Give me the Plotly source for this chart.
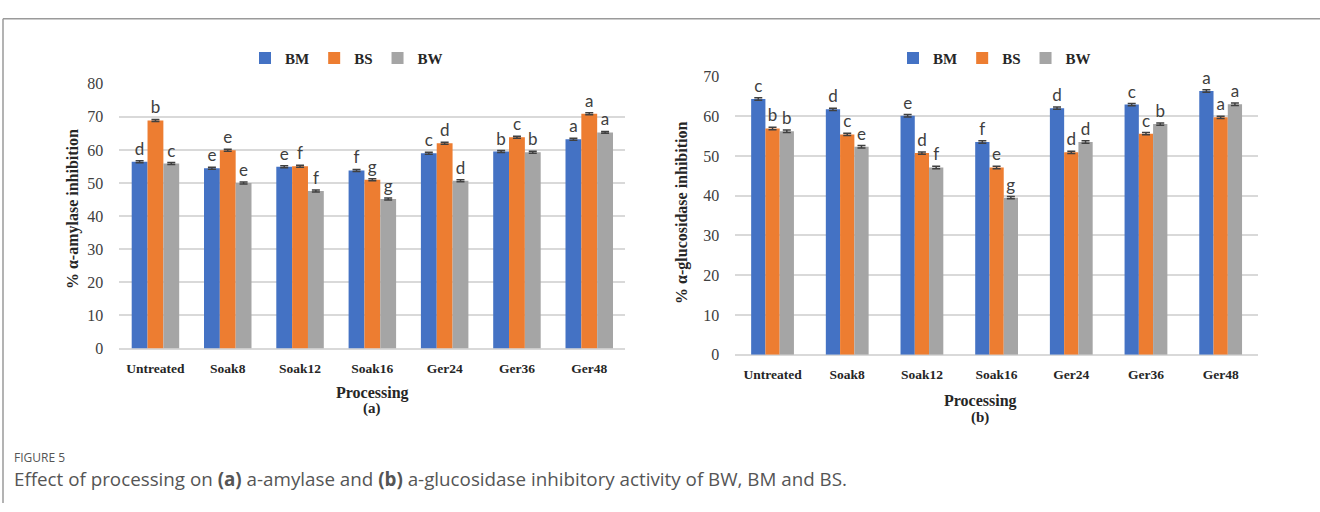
import plotly.graph_objects as go

categories = ["Untreated", "Soak8", "Soak12", "Soak16", "Ger24", "Ger36", "Ger48"]
series = ["BM", "BS", "BW"]

amylase_BM = [56.4, 54.5, 54.9, 53.8, 59.0, 59.5, 63.2]
amylase_BS = [68.9, 59.9, 55.1, 51.0, 62.0, 63.8, 70.9]
amylase_BW = [55.9, 50.0, 47.6, 45.2, 50.7, 59.3, 65.3]
amylase_err = [0.3] * 7
amylase_letters_BM = ["d", "e", "e", "f", "c", "b", "a"]
amylase_letters_BS = ["b", "e", "f", "g", "d", "c", "a"]
amylase_letters_BW = ["c", "e", "f", "g", "d", "b", "a"]

gluco_BM = [64.3, 61.7, 60.1, 53.5, 62.0, 62.9, 66.3]
gluco_BS = [56.9, 55.4, 50.7, 47.1, 50.9, 55.6, 59.7]
gluco_BW = [56.2, 52.3, 47.1, 39.5, 53.5, 58.0, 63.0]
gluco_err = [0.3] * 7
gluco_letters_BM = ["c", "d", "e", "f", "d", "c", "a"]
gluco_letters_BS = ["b", "c", "d", "e", "d", "c", "a"]
gluco_letters_BW = ["b", "e", "f", "g", "d", "b", "a"]

colors = {"BM": "#4472C4", "BS": "#ED7D31", "BW": "#A5A5A5"}

W, H = 1320, 512


def px(x):
    return x / W


def py(y):
    return 1 - y / H


fig = go.Figure()

left_vals = [amylase_BM, amylase_BS, amylase_BW]
left_letters = [amylase_letters_BM, amylase_letters_BS, amylase_letters_BW]
right_vals = [gluco_BM, gluco_BS, gluco_BW]
right_letters = [gluco_letters_BM, gluco_letters_BS, gluco_letters_BW]

lw = 0.219
rw = 0.191
letter_font = dict(family="Lato", size=17, color="#404040")

for i, s in enumerate(series):
    fig.add_trace(go.Bar(
        x=categories, y=left_vals[i], name=s, xaxis="x", yaxis="y",
        width=lw, offset=-1.5 * lw + i * lw,
        marker=dict(color=colors[s], line=dict(width=0)),
        error_y=dict(type="data", array=amylase_err, color="#404040", thickness=1.5, width=4),
        text=left_letters[i], textposition="outside", outsidetextfont=letter_font,
        constraintext="none", cliponaxis=False, legend="legend",
    ))
for i, s in enumerate(series):
    fig.add_trace(go.Bar(
        x=categories, y=right_vals[i], name=s, xaxis="x2", yaxis="y2",
        width=rw, offset=-1.5 * rw + i * rw,
        marker=dict(color=colors[s], line=dict(width=0)),
        error_y=dict(type="data", array=gluco_err, color="#404040", thickness=1.5, width=4),
        text=right_letters[i], textposition="outside", outsidetextfont=letter_font,
        constraintext="none", cliponaxis=False, legend="legend2",
    ))

serif = "Liberation Serif"
grid = "#d9d9d9"

xcommon = dict(type="category", categoryorder="array", categoryarray=categories,
               showgrid=False, showline=False, zeroline=False,
               ticks="", ticklabelstandoff=10,
               tickfont=dict(family=serif, size=13.5, color="#262626", weight="bold"))
ycommon = dict(showgrid=True, gridcolor=grid, gridwidth=1.5, zeroline=True,
               zerolinecolor=grid, zerolinewidth=1.5, showline=False, ticks="",
               ticklabelstandoff=15, dtick=10,
               tickfont=dict(family=serif, size=16, color="#404040"))

fig.update_layout(
    width=W, height=H, autosize=False,
    margin=dict(l=0, r=0, t=0, b=0),
    paper_bgcolor="white", plot_bgcolor="white",
    barmode="overlay",
    xaxis=dict(domain=[px(119.3), px(625.4)], anchor="y", **xcommon),
    yaxis=dict(domain=[py(352.3), py(78.3)], anchor="x", range=[0, 80], **ycommon),
    xaxis2=dict(domain=[px(735.2), px(1258)], anchor="y2", **xcommon),
    yaxis2=dict(domain=[py(358.7), py(70.7)], anchor="x2", range=[0, 70], **ycommon),
    legend=dict(orientation="h", x=px(245), y=py(52), xanchor="left", yanchor="middle",
                font=dict(family=serif, size=15, color="#262626", weight="bold"),
                bgcolor="rgba(0,0,0,0)", itemclick=False, traceorder="normal"),
    legend2=dict(orientation="h", x=px(893), y=py(52), xanchor="left", yanchor="middle",
                 font=dict(family=serif, size=15, color="#262626", weight="bold"),
                 bgcolor="rgba(0,0,0,0)", itemclick=False, traceorder="normal"),
    showlegend=True,
)

ann = []
title_font = dict(family=serif, size=16, color="#262626", weight="bold")
ann.append(dict(text="% α-amylase inhibition", x=px(73), y=py(208), xref="paper", yref="paper",
                textangle=-90, showarrow=False, font=title_font, xanchor="center", yanchor="middle"))
ann.append(dict(text="% α-glucosidase inhibition", x=px(682), y=py(212), xref="paper", yref="paper",
                textangle=-90, showarrow=False, font=title_font, xanchor="center", yanchor="middle"))
ann.append(dict(text="Processing", x=px(372), y=py(398), xref="paper", yref="paper",
                showarrow=False, font=title_font, xanchor="center", yanchor="middle"))
ann.append(dict(text="(a)", x=px(372), y=py(414), xref="paper", yref="paper",
                showarrow=False, font=dict(family=serif, size=15, color="#262626", weight="bold"),
                xanchor="center", yanchor="middle"))
ann.append(dict(text="Processing", x=px(980), y=py(406), xref="paper", yref="paper",
                showarrow=False, font=title_font, xanchor="center", yanchor="middle"))
ann.append(dict(text="(b)", x=px(980), y=py(424), xref="paper", yref="paper",
                showarrow=False, font=dict(family=serif, size=15, color="#262626", weight="bold"),
                xanchor="center", yanchor="middle"))
ann.append(dict(text="FIGURE 5", x=px(12), y=py(465), xref="paper", yref="paper",
                showarrow=False, font=dict(family="Open Sans", size=12, color="#555555"),
                xanchor="left", yanchor="middle"))
ann.append(dict(text="Effect of processing on <b>(a)</b> a-amylase and <b>(b)</b> a-glucosidase inhibitory activity of BW, BM and BS.",
                x=px(12), y=py(487), xref="paper", yref="paper",
                showarrow=False, font=dict(family="Open Sans", size=18.8, color="#555555"),
                xanchor="left", yanchor="middle"))
fig.update_layout(annotations=ann)

fig.update_layout(shapes=[
    dict(type="line", xref="paper", yref="paper", x0=px(3), x1=1, y0=py(11), y1=py(11),
         line=dict(color="#9a9a9a", width=1.5)),
    dict(type="line", xref="paper", yref="paper", x0=px(3), x1=px(3), y0=py(11), y1=0,
         line=dict(color="#9a9a9a", width=1.5)),
])

fig.write_html("out.html")
